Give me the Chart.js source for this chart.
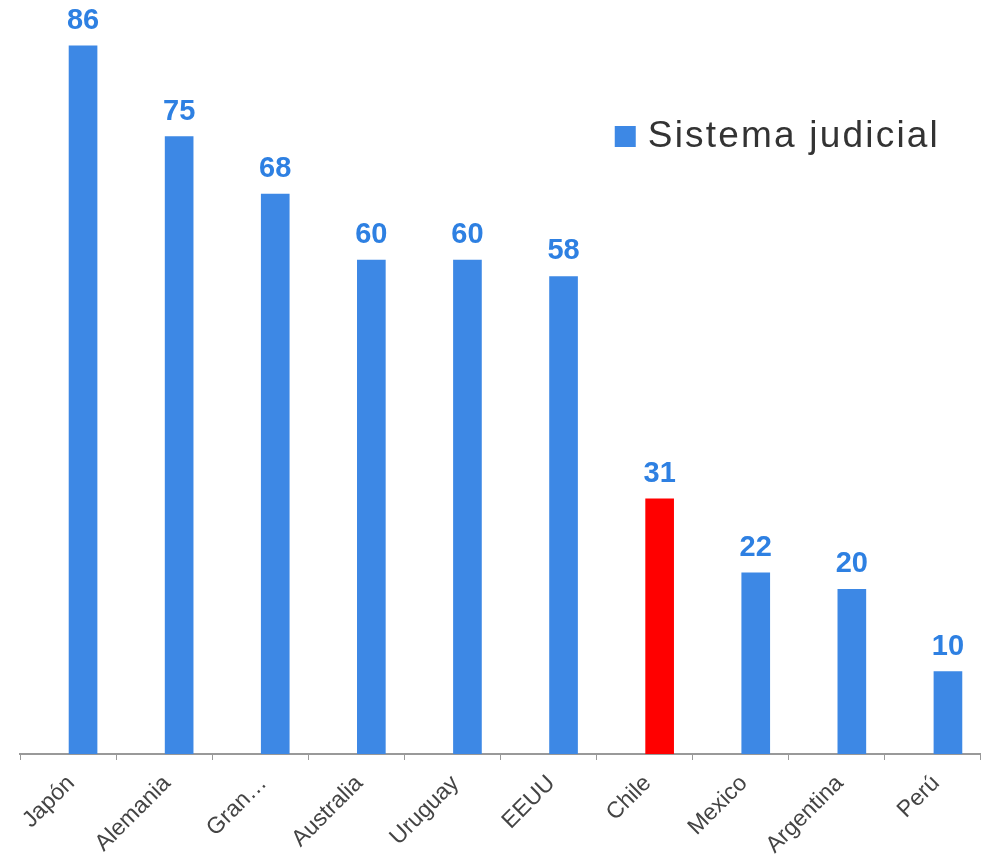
<!DOCTYPE html>
<html>
<head>
<meta charset="utf-8">
<script src="https://cdn.jsdelivr.net/npm/chart.js@4.4.1/dist/chart.umd.min.js"></script>
<style>
    html, body { margin: 0; padding: 0; background: #fff; }
    #wrap { width: 981px; height: 857px; }
</style>
</head>
<body>
<div id="wrap"><canvas id="chart" width="981" height="857"></canvas></div>
<script>
// data
const countries = ['Japón', 'Alemania', 'Gran Bretaña', 'Australia', 'Uruguay', 'EEUU', 'Chile', 'Mexico', 'Argentina', 'Perú'];
const tickLabels = ['Japón', 'Alemania', 'Gran…', 'Australia', 'Uruguay', 'EEUU', 'Chile', 'Mexico', 'Argentina', 'Perú'];
const confianza = [86, 75, 68, 60, 60, 58, 31, 22, 20, 10];
const seriesName = 'Sistema judicial';
const highlighted = 'Chile';

const FONT = '"Liberation Sans", Arial, sans-serif';
const BLUE = '#3d88e5';
const RED = '#ff0000';

// numbers above the bars
const valueLabels = {
    id: 'valueLabels',
    afterDatasetsDraw(chart) {
        const ctx = chart.ctx;
        const meta = chart.getDatasetMeta(0);
        ctx.save();
        ctx.font = 'bold 29px ' + FONT;
        ctx.fillStyle = '#2e80e2';
        ctx.textAlign = 'center';
        ctx.textBaseline = 'alphabetic';
        meta.data.forEach(function(bar, i) {
            ctx.fillText(String(confianza[i]), bar.x, bar.y - 17);
        });
        ctx.restore();
    }
};

// legend sits inside the plot, top right
const legendBox = {
    id: 'legendBox',
    afterDraw(chart) {
        const ctx = chart.ctx;
        const area = chart.chartArea;
        ctx.save();
        ctx.font = '37px ' + FONT;
        if ('letterSpacing' in ctx) ctx.letterSpacing = '2.2px';
        const w = ctx.measureText(seriesName).width;
        const right = area.right - 41;
        const x = right - w;
        ctx.fillStyle = BLUE;
        ctx.fillRect(x - 33, 126, 21, 21);
        ctx.fillStyle = '#333333';
        ctx.textAlign = 'left';
        ctx.textBaseline = 'middle';
        ctx.fillText(seriesName, x, 137);
        ctx.restore();
    }
};

new Chart(document.getElementById('chart'), {
    type: 'bar',
    data: {
        labels: tickLabels,
        datasets: [{
            label: seriesName,
            xAxisID: 'xb',
            data: confianza.map((v, i) => ({ x: i, y: v })),
            backgroundColor: countries.map(c => c === highlighted ? RED : BLUE),
            barThickness: 28,
            borderWidth: 0
        }]
    },
    options: {
        responsive: false,
        animation: false,
        layout: { padding: { left: 20, right: 0, top: 13, bottom: 0 } },
        plugins: {
            legend: { display: false },
            tooltip: { enabled: false }
        },
        scales: {
            x: {
                type: 'category',
                position: 'bottom',
                offset: true,
                grid: { offset: true, drawOnChartArea: false, tickLength: 6, color: '#999999', lineWidth: 1 },
                border: { display: true, color: '#999999', width: 2 },
                ticks: {
                    autoSkip: false,
                    minRotation: 45,
                    maxRotation: 45,
                    labelOffset: 3,
                    padding: 10,
                    color: '#444444',
                    font: { family: FONT, size: 23 }
                },
                afterFit(scale) { scale.height = 103; }
            },
            // bars sit a bit right of each category centre, like the original
            xb: {
                type: 'linear', display: false, offset: false,
                grid: { offset: false },
                min: -0.656, max: 9.344
            },
            y: { display: false, min: 0, max: 90 }
        }
    },
    plugins: [valueLabels, legendBox]
});
</script>
</body>
</html>
